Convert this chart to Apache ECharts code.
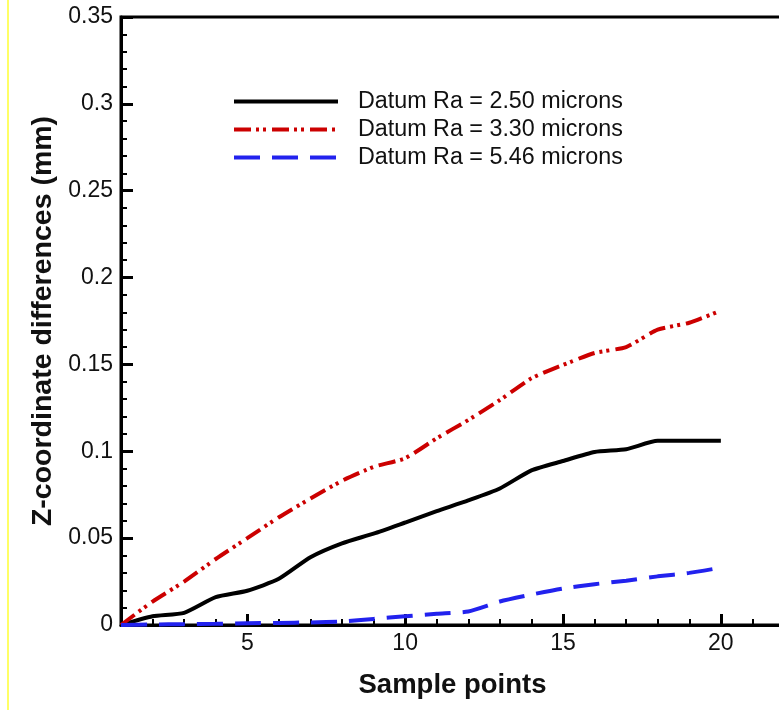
<!DOCTYPE html>
<html>
<head>
<meta charset="utf-8">
<script src="https://cdn.jsdelivr.net/npm/echarts@6/dist/echarts.min.js"></script>
<style>
html,body{margin:0;padding:0;background:#fff;}
#chart{width:779px;height:710px;}
</style>
</head>
<body>
<div id="chart"></div>
<script>
// ---- data ----
const samplePoints = [1,2,3,4,5,6,7,8,9,10,11,12,13,14,15,16,17,18,19,20];
const ra250 = [0,0.005,0.007,0.016,0.0197,0.0266,0.039,0.047,0.0526,0.059,0.0655,0.0717,0.0786,0.089,0.0944,0.0996,0.1012,0.106,0.106,0.106];
const ra330 = [0,0.0135,0.025,0.038,0.050,0.062,0.0728,0.083,0.091,0.096,0.1075,0.118,0.1295,0.142,0.1497,0.1566,0.160,0.170,0.174,0.181];
const ra546 = [0,0.0003,0.0005,0.0007,0.001,0.0012,0.0015,0.002,0.0035,0.005,0.0065,0.0078,0.0135,0.0175,0.021,0.0235,0.0255,0.028,0.030,0.033];
const seriesNames = ['Datum Ra = 2.50 microns','Datum Ra = 3.30 microns','Datum Ra = 5.46 microns'];
const xMajorTicks = [5,10,15,20];
const xMinorTicks = [1,2,3,4,5,6,7,8,9,10,11,12,13,14,15,16,17,18,19,20,21,22];

const pairs = arr => samplePoints.map((x,i)=>[x,arr[i]]);

const chart = echarts.init(document.getElementById('chart'));
const FONT = 'Liberation Sans, Arial, Helvetica, sans-serif';

chart.setOption({
  animation:false,
  backgroundColor:'#fff',
  textStyle:{fontFamily:FONT},
  grid:{left:121, top:17, width:663, height:608, show:true, borderColor:'#000', borderWidth:3,
        backgroundColor:'transparent', containLabel:false, outerBoundsMode:'none'},
  legend:{
    orient:'vertical', left:232, top:90, padding:0,
    itemWidth:104, itemHeight:6, itemGap:5,
    itemStyle:{opacity:0, borderWidth:0},
    lineStyle:{width:4},
    textStyle:{fontSize:23.3, color:'#111', fontFamily:FONT, padding:[0,0,0,15], lineHeight:22.5},
    data: seriesNames
  },
  xAxis:[
    {type:'value', min:1, max:22, interval:1, position:'bottom',
     axisLine:{show:true, onZero:false, lineStyle:{color:'#000', width:3}},
     axisTick:{show:true, inside:true, length:6, customValues:xMinorTicks, lineStyle:{color:'#000', width:2}},
     axisLabel:{show:false}, splitLine:{show:false}},
    {type:'value', min:1, max:22, position:'bottom',
     name:'Sample points', nameLocation:'middle', nameGap:46,
     nameTextStyle:{fontSize:27.5, fontWeight:'bold', color:'#111', fontFamily:FONT},
     axisLine:{show:false, onZero:false},
     axisTick:{show:true, inside:true, length:11, customValues:xMajorTicks, lineStyle:{color:'#000', width:3}},
     axisLabel:{show:true, customValues:xMajorTicks, fontSize:23, color:'#111', margin:7, fontFamily:FONT},
     splitLine:{show:false}}
  ],
  yAxis:{
    type:'value', min:0, max:0.35, interval:0.05,
    name:'Z-coordinate differences (mm)', nameLocation:'middle', nameGap:63,
    nameTextStyle:{fontSize:28.5, fontWeight:'bold', color:'#111', fontFamily:FONT},
    axisLine:{show:true, onZero:false, lineStyle:{color:'#000', width:3}},
    axisTick:{show:true, inside:true, length:12, lineStyle:{color:'#000', width:3}},
    minorTick:{show:true, splitNumber:5, length:6, lineStyle:{color:'#000', width:2}},
    axisLabel:{fontSize:23, color:'#111', margin:8, fontFamily:FONT},
    splitLine:{show:false}
  },
  graphic:[{type:'rect', shape:{x:7, y:0, width:2, height:710}, style:{fill:'#ffff66'}, silent:true, z:-1}],
  series:[
    {name:seriesNames[0], type:'line', xAxisIndex:1, data:pairs(ra250), symbol:'none', smooth:0.2,
     lineStyle:{color:'#000', width:4, type:'solid'}, itemStyle:{color:'#000'}},
    {name:seriesNames[1], type:'line', xAxisIndex:1, data:pairs(ra330), symbol:'none', smooth:0.2,
     lineStyle:{color:'#cc0000', width:4, type:[17,5,3,4,3,6]}, itemStyle:{color:'#cc0000'}},
    {name:seriesNames[2], type:'line', xAxisIndex:1, data:pairs(ra546), symbol:'none', smooth:0.2,
     lineStyle:{color:'#2222ee', width:4, type:[26,12]}, itemStyle:{color:'#2222ee'}}
  ]
});
</script>
</body>
</html>
